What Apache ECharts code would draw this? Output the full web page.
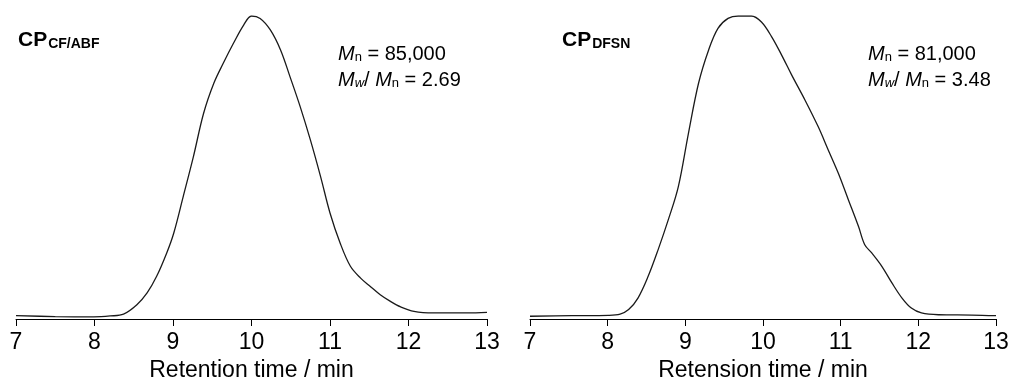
<!DOCTYPE html>
<html><head><meta charset="utf-8">
<script src="https://cdn.jsdelivr.net/npm/echarts@6/dist/echarts.min.js"></script>
<style>html,body{margin:0;padding:0;background:#fff}#c{width:1013px;height:379px}</style>
</head><body><div id="c"></div>
<script>
// Retention time (min) and normalised detector response (%)
const leftTime  = [7.00,7.50,7.99,8.20,8.37,8.54,8.67,8.79,8.92,9.01,9.13,9.26,9.39,9.52,9.64,9.77,9.90,10.00,10.11,10.24,10.37,10.49,10.62,10.75,10.88,11.00,11.13,11.26,11.39,11.51,11.64,11.77,11.90,12.07,12.32,12.75,13.00];
const leftValue = [1.1,0.8,0.7,1.0,1.6,4.7,8.6,14.0,21.8,28.4,40.4,53.6,67.9,77.8,84.4,91.0,97.0,100.0,99.2,95.4,88.8,80.0,70.1,59.1,47.0,35.0,25.0,17.4,13.5,10.8,8.0,5.8,4.0,2.5,2.0,2.0,2.2];
const rightTime  = [7.00,7.54,8.01,8.16,8.27,8.39,8.52,8.65,8.78,8.91,9.04,9.17,9.30,9.42,9.55,9.68,9.85,9.98,10.11,10.24,10.37,10.54,10.71,10.84,10.97,11.10,11.23,11.31,11.40,11.53,11.66,11.79,11.91,12.04,12.26,12.69,13.00];
const rightValue = [0.9,1.1,1.2,1.6,3.1,6.9,14.0,22.9,32.7,43.7,61.3,77.8,88.8,95.9,99.2,100.0,100.0,98.0,93.2,87.1,80.5,72.3,63.5,55.8,48.1,39.3,30.5,24.5,21.8,17.4,11.9,6.9,3.6,2.0,1.4,1.3,1.1];
const xTicks = [7,8,9,10,11,12,13];
const leftName = "Retention time / min";
const rightName = "Retension time / min";
const leftLabel = {main:"CP", sub:"CF/ABF", mn:"85,000", pdi:"2.69"};
const rightLabel = {main:"CP", sub:"DFSN", mn:"81,000", pdi:"3.48"};

const FONT = "Liberation Sans";
const pair = (t, v) => t.map((x, i) => [x, v[i]]);

function xAxis(idx, name){
  return {
    type:'value', gridIndex:idx, min:xTicks[0], max:xTicks[xTicks.length-1], interval:1,
    name:name, nameLocation:'middle', nameGap:35,
    nameTextStyle:{fontFamily:FONT, fontSize:23, color:'#000'},
    axisLine:{show:true, lineStyle:{color:'#000', width:1}},
    axisTick:{show:true, inside:false, length:7, lineStyle:{color:'#000', width:1}},
    axisLabel:{fontFamily:FONT, fontSize:23, color:'#000', margin:12},
    splitLine:{show:false}
  };
}
function yAxis(idx){
  return {type:'value', gridIndex:idx, min:0, max:100, show:false};
}
function titleBlock(lab, xCP, xAnn){
  return [
    {left:xCP, top:22, text:'{a|'+lab.main+'}{b|'+lab.sub+'}',
     textStyle:{rich:{
       a:{fontFamily:FONT, fontWeight:'bold', fontSize:21, color:'#000', verticalAlign:'bottom', lineHeight:24},
       b:{fontFamily:FONT, fontWeight:'bold', fontSize:14, color:'#000', verticalAlign:'bottom', lineHeight:19, padding:[0,0,0,1]}
     }}},
    {left:xAnn, top:33, text:'{m|M}{s|n}{t| = '+lab.mn+'}\n{m|M}{si|w}{t|/ }{m|M}{s|n}{t| = '+lab.pdi+'}',
     textStyle:{fontWeight:'normal', rich:{
       m:{fontFamily:FONT, fontStyle:'italic', fontWeight:'normal', fontSize:20, color:'#000', lineHeight:26, verticalAlign:'bottom'},
       s:{fontFamily:FONT, fontWeight:'normal', fontSize:13, color:'#000', lineHeight:22, verticalAlign:'bottom'},
       si:{fontFamily:FONT, fontStyle:'italic', fontWeight:'normal', fontSize:13, color:'#000', lineHeight:22, verticalAlign:'bottom'},
       t:{fontFamily:FONT, fontWeight:'normal', fontSize:20, color:'#000', lineHeight:26, verticalAlign:'bottom'}
     }}}
  ];
}

const chart = echarts.init(document.getElementById('c'), null, {renderer:'canvas'});
chart.setOption({
  animation:false,
  backgroundColor:'#fff',
  title:[...titleBlock(leftLabel, 13, 333), ...titleBlock(rightLabel, 557, 863)],
  grid:[
    {left:16, top:16, width:471, height:303, containLabel:false, outerBoundsMode:'none'},
    {left:530, top:16, width:466, height:303, containLabel:false, outerBoundsMode:'none'}
  ],
  xAxis:[xAxis(0, leftName), xAxis(1, rightName)],
  yAxis:[yAxis(0), yAxis(1)],
  series:[
    {type:'line', xAxisIndex:0, yAxisIndex:0, data:pair(leftTime, leftValue), smooth:0.35, showSymbol:false,
     lineStyle:{color:'#1a1a1a', width:1.3}},
    {type:'line', xAxisIndex:1, yAxisIndex:1, data:pair(rightTime, rightValue), smooth:0.35, showSymbol:false,
     lineStyle:{color:'#1a1a1a', width:1.3}}
  ]
});
</script></body></html>
